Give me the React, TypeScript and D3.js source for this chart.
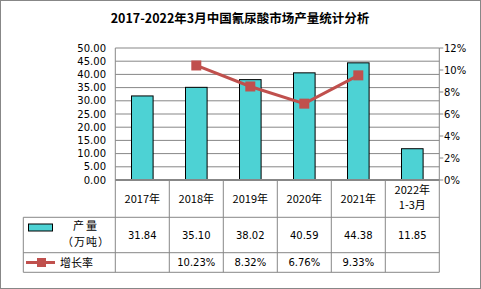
import React from "react";
import * as d3 from "d3";

const categories = ["2017年", "2018年", "2019年", "2020年", "2021年", "2022年\n1-3月"];
const output = [31.84, 35.1, 38.02, 40.59, 44.38, 11.85];
const growth: (number | null)[] = [null, 10.23, 8.32, 6.76, 9.33, null];
const leftTicks = [0, 5, 10, 15, 20, 25, 30, 35, 40, 45, 50];
const rightTicks = [0, 2, 4, 6, 8, 10, 12];

const W = 481, H = 289;
const X0 = 115.3, X1 = 439.3, Y0 = 180, Y1 = 48;
const ROW1 = 217.3, ROW2 = 252.7, ROW3 = 272.3, TL = 23.3;
const FONT = "'Noto Sans CJK SC', 'DejaVu Sans', sans-serif";
const NUM = "'DejaVu Sans', sans-serif";
const GRID = "#878787";
const BAR = "#4DD2D4";
const LINE = "#C0504D";

export default function App() {
  const x = d3.scaleBand<string>().domain(categories).range([X0, X1]).paddingInner(0.6).paddingOuter(0.3);
  const band = d3.scaleBand<string>().domain(categories).range([X0, X1]);
  const yL = d3.scaleLinear().domain([0, 50]).range([Y0, Y1]);
  const yR = d3.scaleLinear().domain([0, 12]).range([Y0, Y1]);
  const pts = categories
    .map((c, i) => ({ c, v: growth[i] }))
    .filter((d) => d.v != null) as { c: string; v: number }[];
  const line = d3
    .line<{ c: string; v: number }>()
    .x((d) => band(d.c)! + band.bandwidth() / 2)
    .y((d) => yR(d.v) - 2);

  const cx = (c: string) => band(c)! + band.bandwidth() / 2;

  return (
    <svg width={W} height={H} style={{ position: "absolute", left: 0, top: 0 }} fontFamily={FONT}>
      <rect x={0.5} y={0.5} width={W - 1} height={H - 1} fill="#fff" stroke={GRID} />
      <text x={240} y={23} textAnchor="middle" fontSize={12.5} fontWeight="bold" fill="#000">
        2017-2022年3月中国氰尿酸市场产量统计分析
      </text>
      {leftTicks.map((t) => (
        <g key={t}>
          {t > 0 && <line x1={X0} x2={X1} y1={yL(t)} y2={yL(t)} stroke={GRID} strokeWidth={1} />}
          <text x={106} y={yL(t) + 3.5} textAnchor="end" fontSize={10} fontFamily={NUM} fill="#000">
            {t.toFixed(2)}
          </text>
        </g>
      ))}
      {rightTicks.map((t) => (
        <g key={t}>
          <line x1={X1} x2={X1 + 4} y1={yR(t)} y2={yR(t)} stroke={GRID} />
          <text x={444} y={yR(t) + 3.5} fontSize={10} fontFamily={NUM} fill="#000">
            {t}%
          </text>
        </g>
      ))}
      <line x1={X0} x2={X0} y1={Y1} y2={ROW3} stroke={GRID} />
      <line x1={X1} x2={X1} y1={Y1} y2={ROW3} stroke={GRID} />
      {output.map((v, i) => (
        <rect
          key={i}
          x={x(categories[i])!}
          y={yL(v)}
          width={x.bandwidth()}
          height={Y0 - yL(v)}
          fill={BAR}
          stroke="#000"
          strokeWidth={1}
        />
      ))}
      <line x1={X0} x2={X1} y1={Y0} y2={Y0} stroke={GRID} strokeWidth={2} />
      <path d={line(pts)!} fill="none" stroke={LINE} strokeWidth={3} />
      {pts.map((d) => (
        <rect key={d.c} x={cx(d.c) - 5} y={yR(d.v) - 2 - 5} width={10} height={10} fill={LINE} />
      ))}
      {/* table */}
      {categories.slice(0, -1).map((c) => (
        <line key={c} x1={band(c)! + band.bandwidth()} x2={band(c)! + band.bandwidth()} y1={Y0} y2={ROW3} stroke={GRID} />
      ))}
      <line x1={TL} x2={X1} y1={ROW1} y2={ROW1} stroke={GRID} />
      <line x1={TL} x2={X1} y1={ROW2} y2={ROW2} stroke={GRID} />
      <line x1={TL} x2={X1} y1={ROW3} y2={ROW3} stroke={GRID} />
      <line x1={TL} x2={TL} y1={ROW1} y2={ROW3} stroke={GRID} />
      {categories.map((c) => {
        const parts = c.split("\n");
        return parts.length === 1 ? (
          <text key={c} x={cx(c)} y={(Y0 + ROW1) / 2 + 4} textAnchor="middle" fontSize={11}>
            {c}
          </text>
        ) : (
          <text key={c} x={cx(c)} textAnchor="middle" fontSize={11}>
            <tspan x={cx(c)} y={194}>{parts[0]}</tspan>
            <tspan x={cx(c)} y={209}>{parts[1]}</tspan>
          </text>
        );
      })}
      {output.map((v, i) => (
        <text key={i} x={cx(categories[i])} y={(ROW1 + ROW2) / 2 + 4} textAnchor="middle" fontSize={10} fontFamily={NUM}>
          {v.toFixed(2)}
        </text>
      ))}
      {growth.map((v, i) =>
        v == null ? null : (
          <text key={i} x={cx(categories[i])} y={(ROW2 + ROW3) / 2 + 3.5} textAnchor="middle" fontSize={10} fontFamily={NUM}>
            {v.toFixed(2)}%
          </text>
        )
      )}
      <rect x={28.5} y={224} width={24} height={7} fill={BAR} stroke="#000" />
      <text x={86} y={230} textAnchor="middle" fontSize={11} letterSpacing={2}>产量</text>
      <text x={86} y={246} textAnchor="middle" fontSize={11} letterSpacing={1}>（万吨）</text>
      <line x1={26} x2={55} y1={262.5} y2={262.5} stroke={LINE} strokeWidth={3} />
      <rect x={37} y={258} width={9} height={9} fill={LINE} />
      <text x={60} y={267} fontSize={11}>增长率</text>
    </svg>
  );
}
